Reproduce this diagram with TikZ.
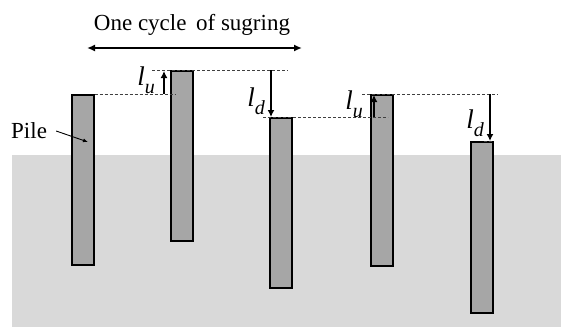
\documentclass[tikz,border=0pt]{standalone}
\usepackage{fontspec}
\setmainfont{Liberation Serif}
\usetikzlibrary{arrows.meta}
\begin{document}
\begin{tikzpicture}[x=1pt,y=-1pt,
  pile/.style={draw=black,line width=1.5pt,fill=pilegray,inner sep=0pt,minimum width=22pt,anchor=north west},
  guide/.style={draw=black!75,line width=0.6pt,dash pattern=on 3pt off 2pt},
  move/.style={draw=black,line width=2pt,-{Latex[length=7pt,width=7pt]}},
  lab/.style={font=\fontsize{23}{26}\selectfont,inner sep=0pt},
  sym/.style={font=\fontsize{27}{30}\selectfont,inner sep=0pt}]
\definecolor{pilegray}{HTML}{A6A6A6}
\definecolor{ground}{HTML}{D9D9D9}
\useasboundingbox (0,0) rectangle (561,327);
\fill[ground] (12,155) rectangle (561,327);
% piles
\node[pile,minimum height=170pt] (p1) at (71,94) {};
\node[pile,minimum height=170pt] (p2) at (170,70) {};
\node[pile,minimum height=170pt] (p3) at (269,117) {};
\node[pile,minimum height=171pt] (p4) at (370,94) {};
\node[pile,minimum height=171pt] (p5) at (470,141) {};
% guide ends
\coordinate (g1) at (175,94);
\coordinate (g2a) at (152,70);
\coordinate (g2b) at (288,70);
\coordinate (g3a) at (263,117);
\coordinate (g3b) at (388,117);
\coordinate (g4a) at (362,94);
\coordinate (g4b) at (498,94);
\coordinate (g5a) at (484,141);
\draw[guide] (p1.north east) -- (g1);
\draw[guide] (g2a) -- (g2b);
\draw[guide] (g3a) -- (g3b);
\draw[guide] (g4a) -- (g4b);
\draw[guide] (g5a) -- (p5.north east);
% movement arrows
\coordinate (u1s) at (164,94);
\coordinate (u1e) at (164,71);
\coordinate (d1s) at (271,70);
\coordinate (d1e) at (271,117);
\coordinate (u2s) at (374,117);
\coordinate (u2e) at (374,95);
\coordinate (d2s) at (490,94);
\coordinate (d2e) at (490,141);
\draw[move] (u1s) -- (u1e);
\draw[move] (d1s) -- (d1e);
\draw[move] (u2s) -- (u2e);
\draw[move] (d2s) -- (d2e);
% labels
\node[sym] (lu1) at (146,80) {\itshape l\raisebox{-0.3em}{\fontsize{20}{22}\selectfont u}};
\node[sym] (ld1) at (256,101) {\itshape l\raisebox{-0.3em}{\fontsize{20}{22}\selectfont d}};
\node[sym] (lu2) at (354,104) {\itshape l\raisebox{-0.3em}{\fontsize{20}{22}\selectfont u}};
\node[sym] (ld2) at (475,123) {\itshape l\raisebox{-0.3em}{\fontsize{20}{22}\selectfont d}};
% title and cycle arrow
\node[lab] (title) at (192,25) {One cycle\, of sugring};
\coordinate (ca) at (87,48);
\coordinate (cb) at (302,48);
\draw[draw=black,line width=2pt,{Latex[length=8pt,width=7pt]}-{Latex[length=8pt,width=7pt]}] (ca) -- (cb);
% pile label
\node[lab,anchor=west] (pile) at (11,131) {Pile};
\coordinate (pt) at (88,142);
\draw[black,line width=0.9pt,-{Latex[length=5pt,width=4pt]}] (pile.east) ++(9,0) -- (pt);
\end{tikzpicture}
\end{document}
